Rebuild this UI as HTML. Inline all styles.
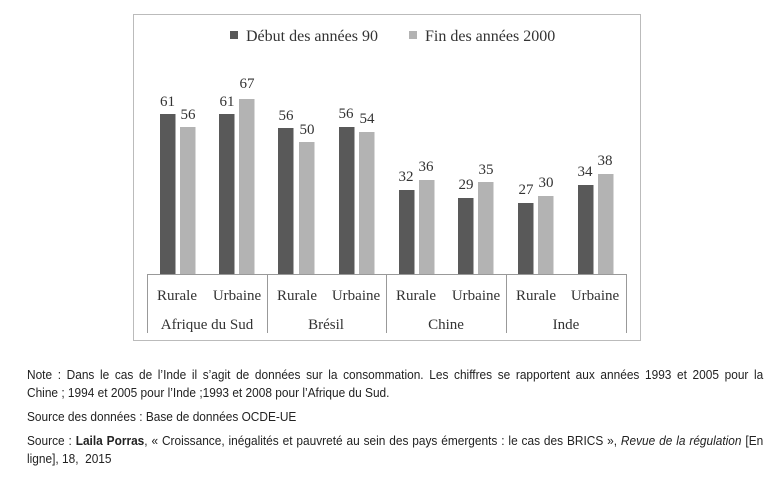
<!DOCTYPE html>
<html><head><meta charset="utf-8"><style>
body{margin:0;width:773px;height:491px;background:#fff;overflow:hidden;position:relative}
.n{position:absolute;left:27px;font-family:"Liberation Sans",sans-serif;font-size:12.5px;color:#222;line-height:18px;width:775px;transform:scaleX(0.95);transform-origin:0 0;white-space:nowrap}
.j{text-align:justify;text-align-last:justify}
</style></head><body>
<svg width="773" height="350" style="position:absolute;left:0;top:0" font-family="Liberation Serif,serif" fill="#333">
<rect x="133.5" y="14.5" width="507" height="326" fill="none" stroke="#bbb"/>
<rect x="230" y="31" width="8" height="8" fill="#595959"/>
<text x="246" y="41" font-size="16">Début des années 90</text>
<rect x="409" y="31" width="8" height="8" fill="#b3b3b3"/>
<text x="425" y="41" font-size="16">Fin des années 2000</text>
<g stroke="#999" fill="none"><path d="M147 274.5H627M147.5 274V333M267.5 274V333M386.5 274V333M506.5 274V333M626.5 274V333"/></g>
<g font-size="15" text-anchor="middle">
<text x="177" y="300">Rurale</text><text x="237" y="300">Urbaine</text>
<text x="297" y="300">Rurale</text><text x="356" y="300">Urbaine</text>
<text x="416" y="300">Rurale</text><text x="476" y="300">Urbaine</text>
<text x="536" y="300">Rurale</text><text x="595" y="300">Urbaine</text>
<text x="207" y="329">Afrique du Sud</text><text x="326" y="329">Brésil</text>
<text x="446" y="329">Chine</text><text x="566" y="329">Inde</text>
</g>
<g font-size="15" text-anchor="middle">
<rect x="160" y="114" width="15.5" height="160" fill="#595959"/><text x="167.5" y="106">61</text>
<rect x="180" y="127" width="15.5" height="147" fill="#b3b3b3"/><text x="188" y="119">56</text>
<rect x="219" y="114" width="15.5" height="160" fill="#595959"/><text x="227" y="106">61</text>
<rect x="239" y="99" width="15.5" height="175" fill="#b3b3b3"/><text x="247" y="88">67</text>
<rect x="278" y="128" width="15.5" height="146" fill="#595959"/><text x="286" y="120">56</text>
<rect x="299" y="142" width="15.5" height="132" fill="#b3b3b3"/><text x="307" y="134">50</text>
<rect x="339" y="127" width="15.5" height="147" fill="#595959"/><text x="346" y="118">56</text>
<rect x="359" y="132" width="15.5" height="142" fill="#b3b3b3"/><text x="367" y="123">54</text>
<rect x="399" y="190" width="15.5" height="84" fill="#595959"/><text x="406" y="181">32</text>
<rect x="419" y="180" width="15.5" height="94" fill="#b3b3b3"/><text x="426" y="171">36</text>
<rect x="458" y="198" width="15.5" height="76" fill="#595959"/><text x="466" y="189">29</text>
<rect x="478" y="182" width="15.5" height="92" fill="#b3b3b3"/><text x="486" y="174">35</text>
<rect x="518" y="203" width="15.5" height="71" fill="#595959"/><text x="526" y="194">27</text>
<rect x="538" y="196" width="15.5" height="78" fill="#b3b3b3"/><text x="546" y="187">30</text>
<rect x="578" y="185" width="15.5" height="89" fill="#595959"/><text x="585" y="176">34</text>
<rect x="598" y="174" width="15.5" height="100" fill="#b3b3b3"/><text x="605" y="165">38</text>
</g>
</svg>
<div class="n j" style="top:366px">Note : Dans le cas de l’Inde il s’agit de données sur la consommation. Les chiffres se rapportent aux années 1993 et 2005 pour la</div>
<div class="n" style="top:384px">Chine ; 1994 et 2005 pour l’Inde ;1993 et 2008 pour l’Afrique du Sud.</div>
<div class="n" style="top:408px">Source des données : Base de données OCDE-UE</div>
<div class="n j" style="top:432px">Source : <b>Laila Porras</b>, « Croissance, inégalités et pauvreté au sein des pays émergents : le cas des BRICS », <i>Revue de la régulation</i> [En</div>
<div class="n" style="top:450px">ligne], 18,&nbsp; 2015</div>
</body></html>
